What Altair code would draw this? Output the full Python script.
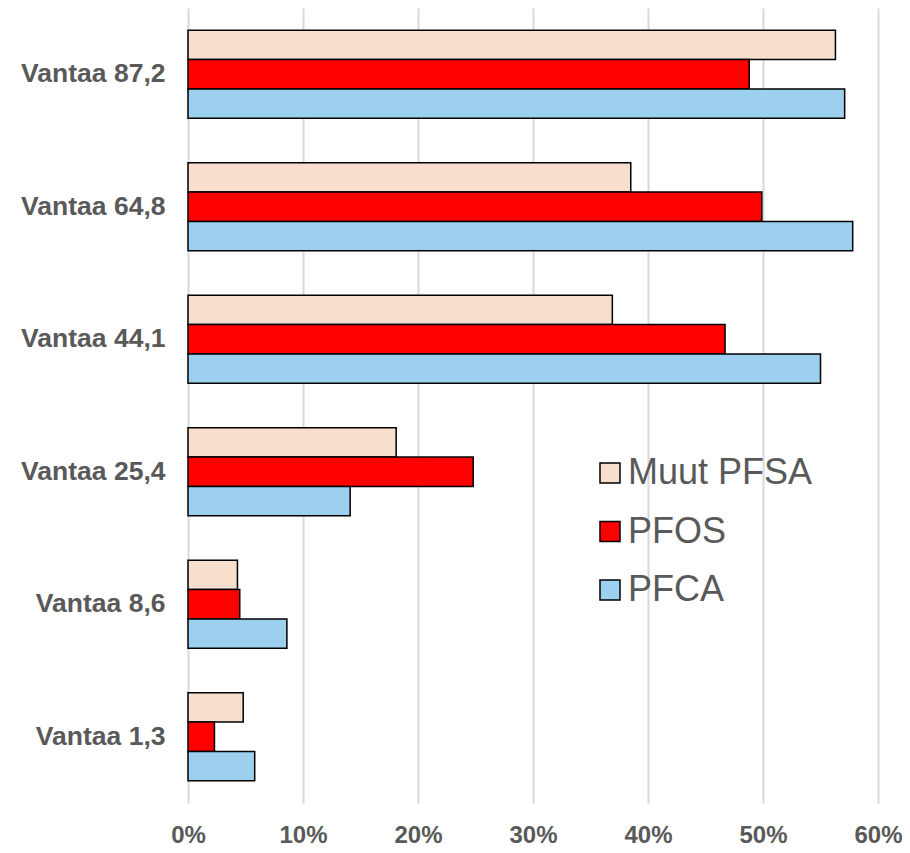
import altair as alt
import pandas as pd

categories = ["Vantaa 87,2", "Vantaa 64,8", "Vantaa 44,1", "Vantaa 25,4", "Vantaa 8,6", "Vantaa 1,3"]
series = ["Muut PFSA", "PFOS", "PFCA"]
muut_pfsa = [0.563, 0.385, 0.369, 0.181, 0.043, 0.048]
pfos = [0.488, 0.499, 0.467, 0.248, 0.045, 0.023]
pfca = [0.571, 0.578, 0.550, 0.141, 0.086, 0.058]
colors = ["#F7DECD", "#FF0000", "#9DCFEE"]
x_ticks = [0, 0.1, 0.2, 0.3, 0.4, 0.5, 0.6]

rows = []
for s, vals in zip(series, [muut_pfsa, pfos, pfca]):
    for c, v in zip(categories, vals):
        rows.append({"Kategoria": c, "Sarja": s, "Osuus": v})
df = pd.DataFrame(rows)

chart = alt.Chart(df).mark_bar(stroke="black", strokeWidth=1.5).encode(
    y=alt.Y("Kategoria:N", sort=categories, title=None,
            scale=alt.Scale(paddingInner=0.334, paddingOuter=0.167),
            axis=alt.Axis(labelFont="Liberation Sans", labelFontWeight="bold",
                          labelFontSize=26.5, labelColor="#595959", ticks=False,
                          domain=False, labelPadding=23, labelLimit=300)),
    yOffset=alt.YOffset("Sarja:N", sort=series),
    x=alt.X("Osuus:Q", title=None,
            scale=alt.Scale(domain=[0, 0.6], nice=False),
            axis=alt.Axis(values=x_ticks, format=".0%", labelFont="Liberation Sans",
                          labelFontWeight="bold", labelFontSize=24, labelColor="#595959",
                          labelFlush=False,
                          ticks=False, domain=False, labelPadding=20,
                          grid=True, gridColor="#D9D9D9", gridWidth=2)),
    color=alt.Color("Sarja:N", sort=series,
                    scale=alt.Scale(domain=series, range=colors),
                    legend=alt.Legend(title=None, orient="none", legendX=404, legendY=447,
                                      symbolType="square", symbolSize=400,
                                      symbolStrokeColor="black", symbolStrokeWidth=1.5,
                                      labelFont="Liberation Sans", labelFontSize=36,
                                      labelColor="#595959", labelOffset=0,
                                      rowPadding=22.5, padding=0, labelLimit=400)),
).properties(
    width=690, height=795,
    autosize=alt.AutoSizeParams(type="none"),
    padding={"left": 180, "top": 0, "right": 24, "bottom": 44},
).configure_view(stroke=None)

chart.save("out.html", embed_options={"renderer": "svg", "actions": False})
